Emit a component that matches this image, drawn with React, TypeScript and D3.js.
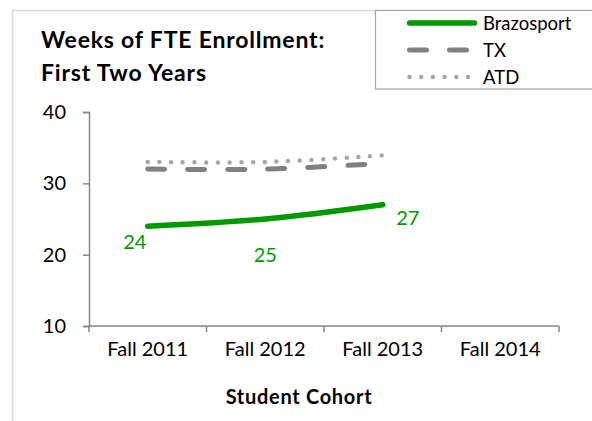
import React, { useEffect, useRef } from 'react';
import * as d3 from 'd3';

// chart data
const cohorts = ['Fall 2011', 'Fall 2012', 'Fall 2013', 'Fall 2014'];
const brazosport = [24, 25, 27];
const tx = [32, 32, 32.8];
const atd = [33, 33, 33.9];
const yTicks = [10, 20, 30, 40];

const FONT = 'Lato, "Open Sans", sans-serif';

const App: React.FC = () => {
  const svgRef = useRef<SVGSVGElement>(null);

  useEffect(() => {
    if (!svgRef.current) return;
    const svg = d3.select(svgRef.current);
    svg.selectAll('*').remove();

    const width = 592;
    const height = 421;
    const left = 89;
    const right = 559;
    const top = 112;
    const bottom = 326;

    svg.attr('width', width).attr('height', height);

    // outer chart frame
    svg.append('rect')
      .attr('x', 12.5).attr('y', 10.5)
      .attr('width', 700).attr('height', 500)
      .attr('fill', '#fff')
      .attr('stroke', '#d9d9d9')
      .attr('stroke-width', 1.5);

    // title
    const title = svg.append('text')
      .style('font-family', FONT)
      .style('font-weight', 'bold')
      .style('font-size', '23px')
      .style('letter-spacing', '0.8px')
      .attr('fill', '#000');
    title.append('tspan').attr('x', 41).attr('y', 48).text('Weeks of FTE Enrollment:');
    title.append('tspan').attr('x', 41).attr('y', 81).text('First Two Years');

    const x = d3.scaleBand<string>().domain(cohorts).range([left, right]);
    const y = d3.scaleLinear().domain([10, 40]).range([bottom, top]);

    const axisColor = '#868686';

    // y axis
    const yAxis = svg.append('g')
      .attr('transform', `translate(${left},0)`)
      .call(d3.axisLeft(y).tickValues(yTicks).tickSize(6).tickPadding(17).tickFormat(d3.format('d')));
    yAxis.select('.domain').attr('stroke', axisColor).attr('stroke-width', 1.5);
    yAxis.selectAll('.tick line').attr('stroke', axisColor).attr('stroke-width', 1.5);
    yAxis.selectAll('.tick text')
      .style('font-family', FONT).style('font-size', '20px').attr('fill', '#000');

    // x axis: ticks on category boundaries
    const xAxis = svg.append('g').attr('transform', `translate(0,${bottom})`);
    xAxis.append('line')
      .attr('x1', left).attr('x2', right)
      .attr('stroke', axisColor).attr('stroke-width', 1.5);
    const bounds = cohorts.map(c => x(c)!).concat([right]);
    xAxis.selectAll('.xtick')
      .data(bounds)
      .enter().append('line')
      .attr('x1', d => d).attr('x2', d => d)
      .attr('y1', 0).attr('y2', 6)
      .attr('stroke', axisColor).attr('stroke-width', 1.5);
    xAxis.selectAll('.xlabel')
      .data(cohorts)
      .enter().append('text')
      .attr('x', d => x(d)! + x.bandwidth() / 2)
      .attr('y', 30)
      .attr('text-anchor', 'middle')
      .style('font-family', FONT).style('font-size', '20px')
      .attr('fill', '#000')
      .text(d => d);

    svg.append('text')
      .attr('x', 299).attr('y', 404)
      .attr('text-anchor', 'middle')
      .style('font-family', FONT).style('font-weight', 'bold').style('font-size', '20px')
      .style('letter-spacing', '0.7px')
      .attr('fill', '#000')
      .text('Student Cohort');

    const cx = (i: number) => x(cohorts[i])! + x.bandwidth() / 2;
    const line = d3.line<number>()
      .x((_, i) => cx(i))
      .y(d => y(d))
      .curve(d3.curveCatmullRom.alpha(0.5));

    const series = [
      { name: 'Brazosport', values: brazosport, color: '#009a00', width: 5.5, dash: null as string | null },
      { name: 'TX', values: tx, color: '#808080', width: 5, dash: '17 23' },
      { name: 'ATD', values: atd, color: '#a6a6a6', width: 4.5, dash: '0 11.7' },
    ];

    // draw back to front
    [...series].reverse().forEach(s => {
      svg.append('path')
        .datum(s.values)
        .attr('d', line)
        .attr('fill', 'none')
        .attr('stroke', s.color)
        .attr('stroke-width', s.width)
        .attr('stroke-linecap', 'round')
        .attr('stroke-dasharray', s.dash);
    });

    // data labels for Brazosport
    const labelOffsets = [[-13, 23], [0, 43], [25, 20]];
    svg.selectAll('.dlabel')
      .data(brazosport)
      .enter().append('text')
      .attr('x', (_, i) => cx(i) + labelOffsets[i][0])
      .attr('y', (d, i) => y(d) + labelOffsets[i][1])
      .attr('text-anchor', 'middle')
      .style('font-family', FONT).style('font-size', '20px')
      .attr('fill', '#009a00')
      .text(d => d);

    // legend
    svg.append('rect')
      .attr('x', 375.5).attr('y', 10.5)
      .attr('width', 300).attr('height', 78.5)
      .attr('fill', '#fff')
      .attr('stroke', '#a6a6a6')
      .attr('stroke-width', 1.2);
    const legend = svg.selectAll('.legend')
      .data(series)
      .enter().append('g')
      .attr('transform', (_, i) => `translate(0,${23 + i * 27})`);
    legend.append('line')
      .attr('x1', 409.5).attr('x2', d => d.name === 'ATD' ? 468 : 474.5)
      .attr('stroke', d => d.color)
      .attr('stroke-width', d => d.width)
      .attr('stroke-linecap', 'round')
      .attr('stroke-dasharray', d => d.dash);
    legend.append('text')
      .attr('x', 483).attr('y', 6.5)
      .style('font-family', FONT).style('font-size', '18.5px')
      .attr('fill', '#000')
      .text(d => d.name);
  }, []);

  return <svg ref={svgRef} style={{ position: 'absolute', left: 0, top: 0 }} />;
};

export default App;
